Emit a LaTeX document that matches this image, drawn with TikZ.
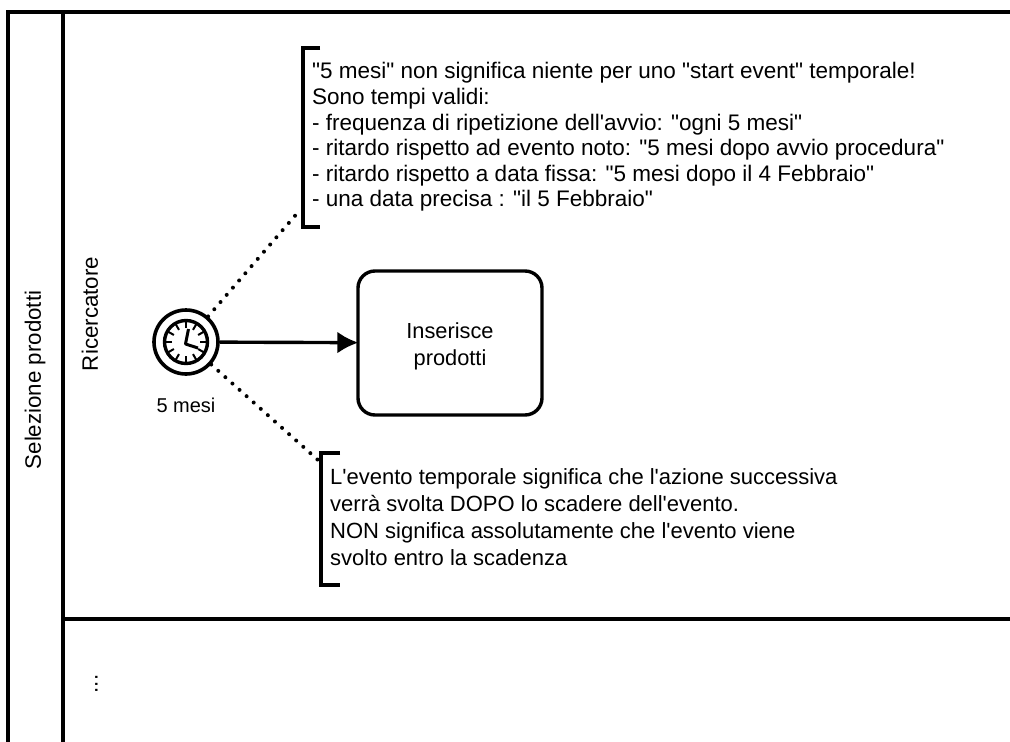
\documentclass[tikz,border=0pt]{standalone}
\usepackage{fontspec}
\newfontfamily\arialfont{Liberation Sans}
\usetikzlibrary{arrows.meta}
\tikzset{>=Latex}
\tikzset{
    lane/.style={line width=3.6pt},
    note/.style={inner sep=0pt, align=left, anchor=west},
    lanelabel/.style={inner sep=0pt, rotate=90, font=\fontsize{22.3}{24}\selectfont},
    association/.style={line width=4pt, line cap=round, dash pattern=on 0pt off 9.5pt},
    bracket/.style={line width=3.8pt},
}

\begin{document}
\arialfont
\begin{tikzpicture}[x=1pt, y=-1pt]
    \useasboundingbox(0, 0)rectangle(1010, 742);
    % lanes
    \draw[lane](8, 742)--(8, 12)--(1010, 12);
    \draw[lane](63, 12)--(63, 742);
    \draw[lane](63, 619)--(1010, 619);
    \node[lanelabel](pool)at(35, 380){Selezione prodotti};
    \node[lanelabel](lane1)at(90, 314){Ricercatore};
    \node[lanelabel](lane2)at(96.5, 684){...};
    % timer event
    \node[circle, draw, line width=3.6pt, minimum size=64pt, inner sep=0pt](start)at(186, 342){};
    \draw[line width=3.4pt](186, 342)circle(21.5);
    \foreach \a in {0, 30, ..., 330}
        \draw[line width=2pt](186, 342)++(\a:14)--++(\a:7);
    \draw[line width=3pt, line join=round](188.5, 329)--(185.5, 344)--(198, 348);
    \node[font=\fontsize{20}{24}\selectfont, inner sep=0pt](startlabel)at(186, 405){5 mesi};
    % task
    \node[draw, line width=3.4pt, rounded corners=17pt, minimum width=184pt, minimum height=144pt](task)at(450, 343){};
    \node[align=center, inner sep=0pt, font=\fontsize{21.8}{27}\selectfont](tasklabel)at(450, 346){Inserisce\\prodotti};
    \draw[line width=3.4pt, shorten >=-2pt, -{Latex[length=21pt, width=22pt]}](start)--(task);
    % annotations
    \draw[bracket](320, 48)--(303, 48)--(303, 227)--(320, 227);
    \node[note, font=\fontsize{22.5}{25.6}\selectfont](note1)at(312, 137){"5 mesi" non significa niente per uno "start event" temporale!\\
        Sono tempi validi:\\
        - frequenza di ripetizione dell'avvio: "ogni 5 mesi"\\
        - ritardo rispetto ad evento noto: "5 mesi dopo avvio procedura"\\
        - ritardo rispetto a data fissa: "5 mesi dopo il 4 Febbraio"\\
        - una data precisa : "il 5 Febbraio"};
    \draw[bracket](340, 453)--(321, 453)--(321, 585)--(340, 585);
    \node[note, font=\fontsize{22}{27}\selectfont](note2)at(330, 517){L'evento temporale significa che l'azione successiva\\
        verrà svolta DOPO lo scadere dell'evento.\\
        NON significa assolutamente che l'evento viene\\
        svolto entro la scadenza};
    \coordinate(note1end)at(300, 210);
    \coordinate(note2end)at(318, 460);
    \draw[association](start)--(note1end);
    \draw[association](start)--(note2end);
\end{tikzpicture}
\end{document}
